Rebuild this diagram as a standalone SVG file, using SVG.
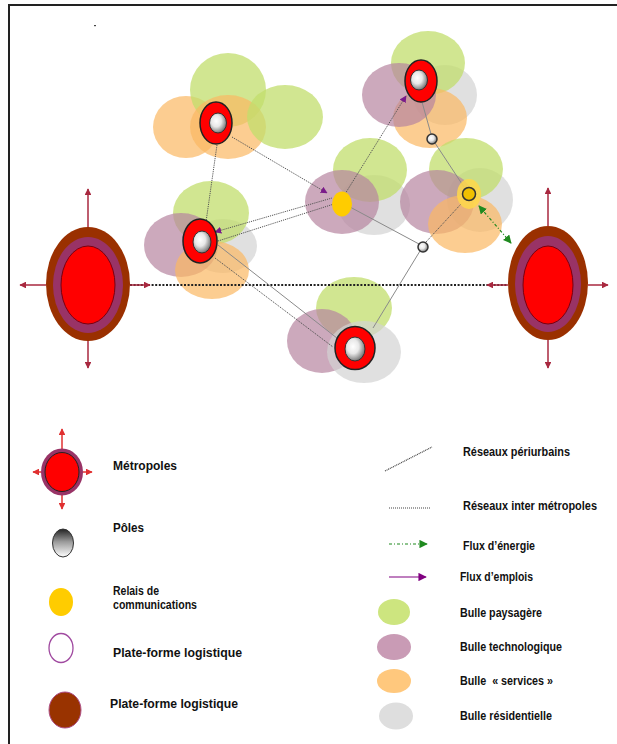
<svg xmlns="http://www.w3.org/2000/svg" width="617" height="744" viewBox="0 0 617 744">
<defs>
<style>
.g{fill:#c2dd6c;opacity:.75}
.p{fill:#b6849f;opacity:.7}
.o{fill:#fbb862;opacity:.7}
.r{fill:#d3d3d3;opacity:.7}
.peri{fill:none;stroke:#555;stroke-width:1;stroke-dasharray:1.2 1}
.ln{fill:none;stroke:#8a8a8a;stroke-width:1}
.inter{fill:none;stroke:#222;stroke-width:2.2;stroke-dasharray:2 1.6}
.arr{stroke:#a8283f;stroke-width:1.5;marker-end:url(#ra)}
.larr{stroke:#e03030;stroke-width:1.5;marker-end:url(#la)}
.ring{fill:#ff0000;stroke:#222;stroke-width:1.5}
.core{fill:url(#pg);stroke:#333;stroke-width:1}
.sp{fill:url(#pg);stroke:#333;stroke-width:1.5}
.lab{font-family:"Liberation Sans",Arial,sans-serif;font-weight:bold;font-size:12px;fill:#111}
</style>
<radialGradient id="pg" cx="40%" cy="40%" r="65%">
<stop offset="0" stop-color="#ffffff"/><stop offset="0.45" stop-color="#e8e8e8"/><stop offset="1" stop-color="#6a6a6a"/>
</radialGradient>
<linearGradient id="lg" x1="0" y1="0" x2="0" y2="1">
<stop offset="0" stop-color="#222"/><stop offset="0.45" stop-color="#999"/><stop offset="1" stop-color="#fff"/>
</linearGradient>
<marker id="ra" viewBox="0 0 10 10" refX="9" refY="5" markerWidth="4.5" markerHeight="4.5" orient="auto"><path d="M0,0 L10,5 L0,10 z" fill="#a8283f"/></marker>
<marker id="la" viewBox="0 0 10 10" refX="9" refY="5" markerWidth="4.5" markerHeight="4.5" orient="auto"><path d="M0,0 L10,5 L0,10 z" fill="#e03030"/></marker>
<marker id="pa" viewBox="0 0 10 10" refX="9" refY="5" markerWidth="7" markerHeight="7" orient="auto"><path d="M0,0 L10,5 L0,10 z" fill="#7a1a8a"/></marker>
<marker id="ps" viewBox="0 0 10 10" refX="1" refY="5" markerWidth="7" markerHeight="7" orient="auto"><path d="M10,0 L0,5 L10,10 z" fill="#7a1a8a"/></marker>
<marker id="ga" viewBox="0 0 10 10" refX="9" refY="5" markerWidth="7" markerHeight="7" orient="auto"><path d="M0,0 L10,5 L0,10 z" fill="#1f8a1f"/></marker>
<marker id="gs" viewBox="0 0 10 10" refX="1" refY="5" markerWidth="7" markerHeight="7" orient="auto"><path d="M10,0 L0,5 L10,10 z" fill="#1f8a1f"/></marker>
<marker id="lp" viewBox="0 0 10 10" refX="9" refY="5" markerWidth="7" markerHeight="7" orient="auto"><path d="M0,0 L10,5 L0,10 z" fill="#800080"/></marker>
</defs>

<rect width="617" height="744" fill="#fff"/>
<g id="frame">
<line x1="9" y1="5" x2="617" y2="5" stroke="#222" stroke-width="2"/>
<line x1="9" y1="4" x2="9" y2="744" stroke="#222" stroke-width="2"/>
<rect x="94" y="25" width="2" height="1.2" fill="#444"/>
</g>

<g id="bubbles-1">
<ellipse class="o" cx="186" cy="127" rx="33" ry="31"/>
<ellipse class="g" cx="228" cy="90" rx="38" ry="37"/>
<ellipse class="o" cx="228" cy="127" rx="38" ry="32"/>
<ellipse class="g" cx="285" cy="117" rx="38" ry="32"/>
</g>
<g id="bubbles-2">
<ellipse class="r" cx="223" cy="246" rx="34" ry="27"/>
<ellipse class="g" cx="211" cy="213" rx="38" ry="32"/>
<ellipse class="p" cx="181" cy="245" rx="37" ry="32"/>
<ellipse class="o" cx="212" cy="270" rx="37" ry="29"/>
</g>
<g id="bubbles-3">
<ellipse class="g" cx="354" cy="308" rx="38" ry="31"/>
<ellipse class="p" cx="322" cy="341" rx="35" ry="32"/>
<ellipse class="r" cx="364" cy="352" rx="37" ry="31"/>
</g>
<g id="bubbles-4">
<ellipse class="r" cx="374" cy="205" rx="36" ry="30"/>
<ellipse class="g" cx="370" cy="170" rx="37" ry="32"/>
<ellipse class="p" cx="342" cy="202" rx="37" ry="32"/>
</g>
<g id="bubbles-5">
<ellipse class="r" cx="445" cy="95" rx="32" ry="30"/>
<ellipse class="g" cx="428" cy="63" rx="37" ry="32"/>
<ellipse class="o" cx="430" cy="118" rx="37" ry="30"/>
<ellipse class="p" cx="399" cy="95" rx="37" ry="32"/>
</g>
<g id="bubbles-6">
<ellipse class="r" cx="480" cy="200" rx="33" ry="32"/>
<ellipse class="g" cx="466" cy="169" rx="37" ry="31"/>
<ellipse class="p" cx="437" cy="202" rx="37" ry="32"/>
<ellipse class="o" cx="465" cy="224" rx="37" ry="29"/>
</g>

<g id="connectors">
<line class="inter" x1="130" y1="285" x2="508" y2="285"/>
<line class="peri" x1="217" y1="145" x2="206" y2="222"/>
<line class="peri" x1="232" y1="137" x2="327" y2="193" marker-end="url(#pa)"/>
<line class="peri" x1="215" y1="232" x2="332" y2="198" marker-start="url(#ps)"/>
<line class="peri" x1="218" y1="241" x2="334" y2="204"/>
<line class="ln" x1="218" y1="245" x2="342" y2="342"/>
<line class="peri" x1="215" y1="258" x2="333" y2="347" stroke-width="1.3"/>
<line class="ln" x1="350" y1="207" x2="419" y2="244"/>
<line class="ln" x1="420" y1="251" x2="373" y2="328"/>
<line class="peri" x1="426" y1="242" x2="461" y2="204"/>
<line class="peri" x1="345" y1="194" x2="406" y2="96" marker-end="url(#pa)"/>
<line class="ln" x1="422" y1="102" x2="431" y2="134"/>
<line class="ln" x1="435" y1="143" x2="464" y2="187" stroke="#555"/>
<line x1="479" y1="206" x2="511" y2="243" stroke="#1f8a1f" stroke-width="1.2" stroke-dasharray="3 2 1 2" marker-start="url(#gs)" marker-end="url(#ga)"/>
</g>

<g id="metropole-left">
<ellipse cx="88" cy="284" rx="42" ry="57" fill="#9a3000"/>
<ellipse cx="88" cy="285" rx="35" ry="48" fill="#993366"/>
<ellipse cx="88" cy="285" rx="27" ry="39" fill="#ff0000" stroke="#7a0010" stroke-width="1"/>
<line class="arr" x1="88" y1="227" x2="88" y2="189"/>
<line class="arr" x1="88" y1="341" x2="88" y2="368"/>
<line class="arr" x1="46" y1="285" x2="20" y2="285"/>
<line class="arr" x1="130" y1="285" x2="150" y2="285"/>
</g>
<g id="metropole-right">
<ellipse cx="548" cy="283" rx="40" ry="57" fill="#9a3000"/>
<ellipse cx="548" cy="284" rx="33" ry="48" fill="#993366"/>
<ellipse cx="548" cy="285" rx="25" ry="39" fill="#ff0000" stroke="#7a0010" stroke-width="1"/>
<line class="arr" x1="548" y1="226" x2="548" y2="188"/>
<line class="arr" x1="548" y1="340" x2="548" y2="368"/>
<line class="arr" x1="588" y1="285" x2="608" y2="285"/>
<line class="arr" x1="508" y1="285" x2="487" y2="285"/>
</g>

<g id="pole-1"><ellipse class="ring" cx="216" cy="123" rx="16" ry="21"/><ellipse class="core" cx="218" cy="123" rx="8.5" ry="10"/></g>
<g id="pole-2"><ellipse class="ring" cx="200" cy="241" rx="17" ry="22"/><ellipse class="core" cx="202" cy="242" rx="9" ry="11"/></g>
<g id="pole-3"><ellipse class="ring" cx="355" cy="348" rx="20" ry="21.5"/><ellipse class="core" cx="355" cy="349" rx="10" ry="12"/></g>
<g id="pole-4"><ellipse class="ring" cx="421" cy="81" rx="16" ry="21"/><ellipse class="core" cx="419" cy="80" rx="8.5" ry="10"/></g>
<g id="small-pole-1"><circle class="sp" cx="432" cy="139" r="5"/></g>
<g id="small-pole-2"><circle class="sp" cx="423" cy="247" r="5"/></g>
<g id="relais-1"><ellipse cx="342" cy="204" rx="10" ry="12.5" fill="#ffcc00"/></g>
<g id="relais-2"><ellipse cx="469" cy="194" rx="12" ry="15" fill="#ffd84a" opacity=".85"/><circle cx="469" cy="194" r="6.5" fill="#f0c000" stroke="#333" stroke-width="1.5"/></g>

<g id="legend-metropoles">
<line class="larr" x1="62" y1="449" x2="62" y2="429"/>
<line class="larr" x1="62" y1="495" x2="62" y2="509"/>
<line class="larr" x1="41" y1="472" x2="33" y2="472"/>
<line class="larr" x1="83" y1="472" x2="92" y2="472"/>
<ellipse cx="62" cy="472" rx="21" ry="23.5" fill="#993366"/>
<ellipse cx="62" cy="472" rx="17" ry="19.5" fill="#ff0000" stroke="#222" stroke-width="1"/>
<text class="lab" x="113" y="470" font-size="12.5" textLength="64" lengthAdjust="spacingAndGlyphs">Métropoles</text>
</g>
<g id="legend-poles">
<ellipse cx="63" cy="543" rx="10.5" ry="14" fill="url(#lg)" stroke="#333" stroke-width="1"/>
<text class="lab" x="113" y="532" textLength="31" lengthAdjust="spacingAndGlyphs">Pôles</text>
</g>
<g id="legend-relais">
<ellipse cx="61" cy="602" rx="12" ry="14" fill="#ffcc00"/>
<text class="lab" x="113" y="595" font-size="11" textLength="46" lengthAdjust="spacingAndGlyphs">Relais de</text>
<text class="lab" x="113" y="609" font-size="10.5" textLength="84" lengthAdjust="spacingAndGlyphs">communications</text>
</g>
<g id="legend-plateforme-1">
<ellipse cx="61" cy="648" rx="12" ry="14.5" fill="#fff" stroke="#a04aa0" stroke-width="1.3"/>
<text class="lab" x="113" y="657" font-size="12.5" textLength="129" lengthAdjust="spacingAndGlyphs">Plate-forme logistique</text>
</g>
<g id="legend-plateforme-2">
<ellipse cx="65" cy="710" rx="16" ry="18" fill="#993300" stroke="#b0508a" stroke-width="1"/>
<text class="lab" x="110" y="708" font-size="12.5" textLength="128" lengthAdjust="spacingAndGlyphs">Plate-forme logistique</text>
</g>
<g id="legend-reseaux-periurbains">
<line x1="385" y1="471" x2="432" y2="447" stroke="#444" stroke-width="1.2" stroke-dasharray="1 0.8"/>
<text class="lab" x="463" y="456" textLength="107" lengthAdjust="spacingAndGlyphs">Réseaux périurbains</text>
</g>
<g id="legend-reseaux-inter">
<line x1="389" y1="508" x2="431" y2="508" stroke="#444" stroke-width="1.2" stroke-dasharray="1 1"/>
<text class="lab" x="463" y="510" textLength="134" lengthAdjust="spacingAndGlyphs">Réseaux inter métropoles</text>
</g>
<g id="legend-energie">
<line x1="389" y1="544" x2="427" y2="544" stroke="#1f8a1f" stroke-width="1.2" stroke-dasharray="3 2 1 2" marker-end="url(#ga)"/>
<text class="lab" x="463" y="550" textLength="72" lengthAdjust="spacingAndGlyphs">Flux d’énergie</text>
</g>
<g id="legend-emplois">
<line x1="389" y1="577" x2="426" y2="577" stroke="#800080" stroke-width="1.2" marker-end="url(#lp)"/>
<text class="lab" x="460" y="581" textLength="73" lengthAdjust="spacingAndGlyphs">Flux d’emplois</text>
</g>
<g id="legend-paysagere">
<ellipse cx="394" cy="612" rx="16" ry="13" fill="#cde57f"/>
<text class="lab" x="460" y="617" textLength="82" lengthAdjust="spacingAndGlyphs">Bulle paysagère</text>
</g>
<g id="legend-technologique">
<ellipse cx="394" cy="647" rx="17" ry="13" fill="#c99bb5"/>
<text class="lab" x="460" y="651" textLength="102" lengthAdjust="spacingAndGlyphs">Bulle technologique</text>
</g>
<g id="legend-services">
<ellipse cx="394" cy="681" rx="17" ry="12" fill="#ffc87d"/>
<text class="lab" x="460" y="685" textLength="93" lengthAdjust="spacingAndGlyphs">Bulle &#160;« services »</text>
</g>
<g id="legend-residentielle">
<ellipse cx="396" cy="716" rx="17" ry="13.5" fill="#dedede"/>
<text class="lab" x="460" y="720" textLength="92" lengthAdjust="spacingAndGlyphs">Bulle résidentielle</text>
</g>
</svg>
